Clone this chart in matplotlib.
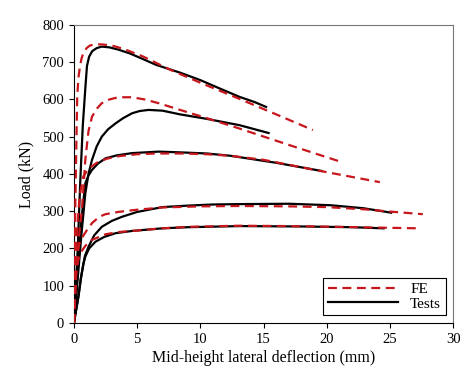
import matplotlib
matplotlib.use('Agg')
import matplotlib.pyplot as plt

plt.rcParams['font.family'] = ['Liberation Serif', 'DejaVu Serif']

# FE curves (deflection mm, load kN)
fe1_x = [0, 0.1, 0.21, 0.26, 0.36, 0.48, 0.6, 0.74, 1.0, 1.27, 1.7, 2.2, 3.0, 4.0, 5.5, 7.6, 10.0, 13.0, 16.0, 18.9]
fe1_y = [0, 300, 518, 608, 660, 690, 710, 724, 738, 745, 748, 748, 745, 735, 715, 680, 645, 603, 560, 518]
fe2_x = [0, 0.2, 0.45, 0.63, 0.9, 1.15, 1.43, 1.8, 2.2, 2.8, 3.5, 4.6, 5.6, 6.7, 8.4, 10.5, 13.0, 17.0, 20.9]
fe2_y = [0, 150, 250, 303, 438, 515, 554, 575, 590, 600, 606, 606, 600, 590, 572, 550, 523, 478, 435]
fe3_x = [0, 0.2, 0.45, 0.74, 1.1, 1.8, 2.6, 3.6, 5.0, 6.5, 8.5, 10.5, 12.35, 15.0, 19.5, 24.2]
fe3_y = [0, 230, 340, 393, 412, 430, 441, 448, 453, 455, 455, 453, 449, 438, 408, 378]
fe4_x = [0, 0.15, 0.4, 0.7, 1.0, 1.43, 2.0, 2.5, 3.5, 5.0, 7.0, 10.0, 13.0, 17.0, 20.0, 23.0, 25.0, 27.6]
fe4_y = [0, 150, 210, 232, 248, 268, 285, 292, 298, 304, 310, 313, 314, 313, 311, 305, 299, 292]
fe5_x = [0, 0.12, 0.35, 0.6, 0.9, 1.43, 2.5, 3.5, 5.0, 7.0, 9.0, 13.0, 17.0, 21.0, 24.0, 27.3]
fe5_y = [0, 120, 170, 192, 207, 223, 238, 244, 248, 254, 258, 261, 260, 258, 256, 254]

# test curves
t1_x = [0, 0.3, 0.5, 0.7, 0.9, 1.03, 1.2, 1.45, 1.8, 2.2, 2.8, 3.5, 4.4, 5.5, 6.5, 8.4, 10.0, 11.5, 13.1, 14.3, 15.2]
t1_y = [0, 200, 380, 530, 630, 690, 715, 730, 738, 742, 740, 734, 724, 708, 693, 672, 652, 630, 607, 593, 580]
t2_x = [0, 0.3, 0.6, 0.9, 1.15, 1.43, 1.8, 2.2, 2.7, 3.3, 3.9, 4.6, 5.2, 5.9, 7.0, 8.4, 10.5, 13.1, 15.4]
t2_y = [0, 120, 240, 348, 400, 438, 474, 500, 520, 536, 550, 563, 569, 572, 570, 560, 548, 531, 510]
t3_x = [0, 0.3, 0.6, 0.9, 1.15, 1.43, 1.9, 2.5, 3.4, 4.6, 6.7, 8.4, 10.5, 12.35, 16.0, 19.6]
t3_y = [0, 140, 280, 375, 396, 411, 428, 442, 450, 456, 460, 458, 455, 449, 430, 408]
t4_x = [0, 0.35, 0.55, 0.87, 1.16, 1.6, 2.2, 3.0, 3.8, 5.0, 7.0, 9.0, 11.0, 13.0, 17.0, 20.3, 22.9, 25.1]
t4_y = [0, 70, 120, 180, 205, 235, 258, 274, 285, 298, 311, 315, 318, 319, 320, 316, 308, 296]
t5_x = [0, 0.35, 0.55, 0.75, 0.9, 1.2, 1.7, 2.4, 3.3, 4.6, 7.0, 9.0, 13.1, 18.0, 22.0, 24.5]
t5_y = [0, 70, 120, 160, 178, 200, 218, 231, 241, 247, 254, 257, 260, 259, 257, 254]

fe_curves = [(fe1_x, fe1_y), (fe2_x, fe2_y), (fe3_x, fe3_y), (fe4_x, fe4_y), (fe5_x, fe5_y)]
test_curves = [(t1_x, t1_y), (t2_x, t2_y), (t3_x, t3_y), (t4_x, t4_y), (t5_x, t5_y)]

fig = plt.figure(figsize=(4.74, 3.79), dpi=100)
ax = fig.add_axes([0.156, 0.148, 0.8, 0.786])

red = '#c8161d'
for i, (x, y) in enumerate(test_curves):
    ax.plot(x, y, color='black', lw=1.6, label='Tests' if i == 0 else None, zorder=2)
for i, (x, y) in enumerate(fe_curves):
    ax.plot(x, y, color=red, lw=1.6, ls=(0, (4, 2.5)), label='FE' if i == 0 else None, zorder=3)

ax.set_xlim(0, 30)
ax.set_ylim(0, 800)
ax.set_xticks(range(0, 31, 5))
ax.set_yticks(range(0, 801, 100))
ax.tick_params(direction='out', length=3.5, width=0.8, labelsize=10.5, colors='black')
ax.spines['top'].set_color('#777777')
ax.spines['right'].set_color('#777777')
ax.set_xlabel('Mid-height lateral deflection (mm)', fontsize=11.5, labelpad=3)
ax.set_ylabel('Load (kN)', fontsize=11.5, labelpad=6)

h, l = ax.get_legend_handles_labels()
leg = ax.legend([h[1], h[0]], [l[1], l[0]], loc='lower right', fontsize=11,
                fancybox=False, edgecolor='black', framealpha=1, handlelength=4.6,
                borderaxespad=0.5, labelspacing=0.05, borderpad=0.3)
leg.get_frame().set_linewidth(0.8)

plt.savefig('out.png', dpi=100)
